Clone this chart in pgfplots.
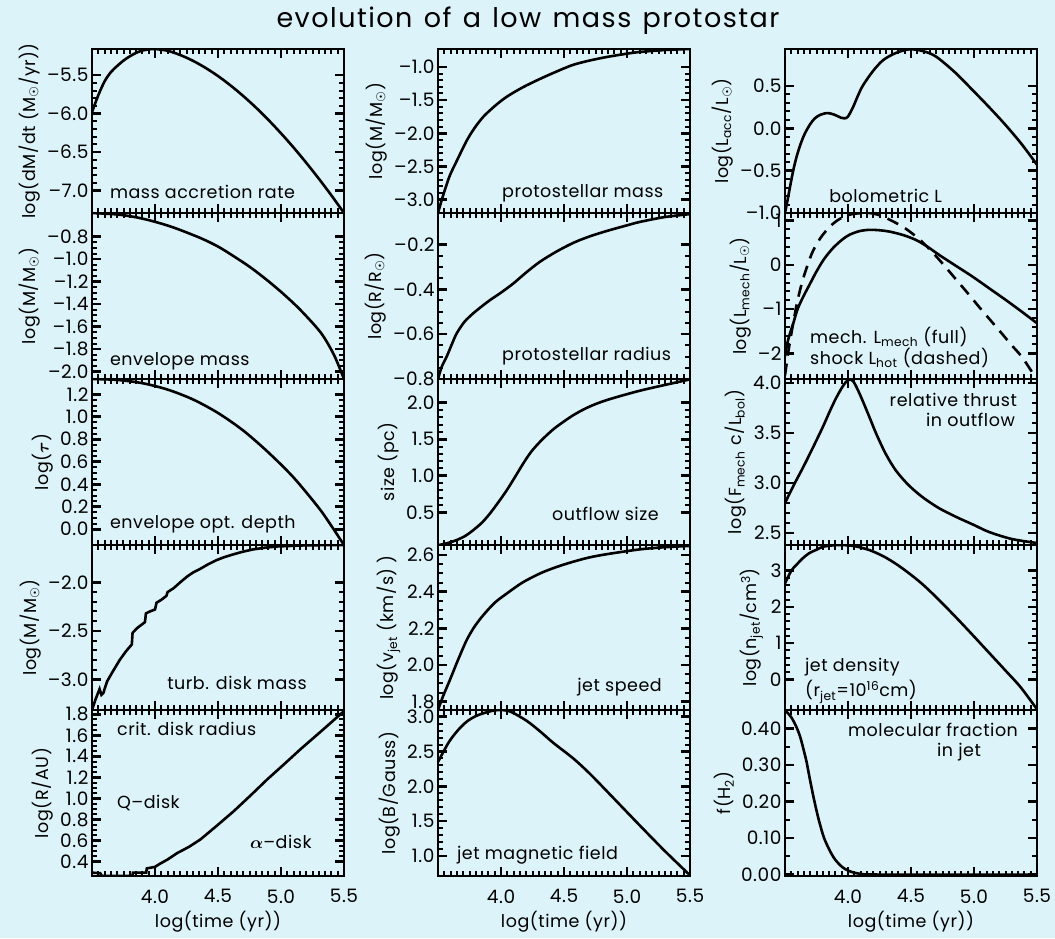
\documentclass[border=0pt]{standalone}
\usepackage{pgfplots}
\pgfplotsset{compat=1.18}
\usepackage{amsmath}
\usepackage{fontspec}
\setmainfont{Poppins}
\newfontfamily\symf{DejaVu Sans}
\newfontfamily\labf{Poppins}[LetterSpace=3, WordSpace=1.8]
\newfontfamily\tickf{Poppins}[LetterSpace=3]
\newfontfamily\titf{Poppins}[LetterSpace=5.5, WordSpace=1.3]
\definecolor{bgc}{RGB}{220,243,249}
\newcommand{\sun}{\text{\symf ☉}}
\newcommand{\fs}{\labf\fontsize{17.5}{19}\selectfont}
\newcommand{\ft}{\tickf\fontsize{18.5}{20}\selectfont}
\newcommand{\mn}{\textendash}

\pgfplotsset{
  tick align=inside, major tick length=9pt, minor tick length=5pt,
  every tick/.style={line width=2.6pt, black},
  every minor tick/.style={line width=2pt, black},
  pan/.style={scale only axis, width=252pt, xmin=3.5, xmax=5.5,
    xtick={3.5,4,4.5,5,5.5}, minor x tick num=9,
    minor y tick num=4,
    axis line style={line width=2.6pt},
    ticklabel style={font=\ft},
    ylabel style={font=\fs},
    xlabel style={font=\fs},
    anchor=north west},
  nox/.style={xticklabels={,,,,}},
  bot/.style={xticklabels={,4.0,4.5,5.0,5.5}, xlabel={log(time (yr))},
    xticklabel style={yshift=-10pt}, xlabel style={yshift=-1pt}},
  crv/.style={line width=2.6pt, black, no markers, smooth},
  stp/.style={line width=2.6pt, black, no markers},
}
\tikzset{lab/.style={font=\fs, anchor=west, inner sep=0pt}}

\begin{document}
\begin{tikzpicture}
\fill[bgc] (0pt,0pt) rectangle (1055pt,-938pt);
\node[font=\titf\fontsize{27}{30}\selectfont] at (528pt,-21pt) {evolution of a low mass protostar};

% ---------- row 1 ----------
\begin{axis}[pan, nox, at={(92pt,-49pt)}, height=164pt, ymin=-7.29, ymax=-5.16,
  ytick={-7,-6.5,-6,-5.5}, yticklabels={\mn7.0,\mn6.5,\mn6.0,\mn5.5},
  ylabel={log(dM/dt (M$_{\sun}$/yr))}]
\addplot[crv] coordinates {(3.5,-5.98) (3.55,-5.76) (3.6,-5.58) (3.65,-5.46) (3.7,-5.38) (3.75,-5.31) (3.8,-5.255) (3.85,-5.21) (3.9,-5.18) (3.95,-5.165) (4.0,-5.16) (4.1,-5.183) (4.2,-5.238) (4.3,-5.312) (4.4,-5.404) (4.5,-5.511) (4.6,-5.634) (4.7,-5.77) (4.8,-5.919) (4.9,-6.081) (5.0,-6.255) (5.1,-6.44) (5.2,-6.637) (5.3,-6.844) (5.4,-7.061) (5.5,-7.29)};
\node[lab] at (rel axis cs:0.071,0.128) {mass accretion rate};
\end{axis}

\begin{axis}[pan, nox, at={(438pt,-49pt)}, height=164pt, ymin=-3.2, ymax=-0.73,
  ytick={-3,-2.5,-2,-1.5,-1}, yticklabels={\mn3.0,\mn2.5,\mn2.0,\mn1.5,\mn1.0},
  ylabel={log(M/M$_{\sun}$)}]
\addplot[crv] coordinates {(3.5,-3.2) (3.53,-3.0) (3.56,-2.82) (3.595,-2.63) (3.65,-2.41) (3.728,-2.11) (3.79,-1.92) (3.86,-1.75) (3.95,-1.59) (4.045,-1.45) (4.17,-1.31) (4.31,-1.18) (4.44,-1.07) (4.57,-0.97) (4.7,-0.905) (4.84,-0.85) (5.0,-0.8) (5.1,-0.775) (5.3,-0.745) (5.5,-0.73)};
\node[lab] at (rel axis cs:0.254,0.122) {protostellar mass};
\end{axis}

\begin{axis}[pan, nox, at={(785pt,-49pt)}, height=164pt, ymin=-1.0, ymax=0.937,
  ytick={-1,-0.5,0,0.5}, yticklabels={\mn1.0,\mn0.5,0.0,0.5},
  ylabel={log(L$_{\text{acc}}$/L$_{\sun}$)}]
\addplot[crv] coordinates {(3.5,-1.0) (3.52,-0.85) (3.54,-0.69) (3.565,-0.5) (3.592,-0.335) (3.625,-0.18) (3.658,-0.06) (3.7,0.05) (3.737,0.118) (3.78,0.16) (3.83,0.18) (3.87,0.172) (3.909,0.15) (3.945,0.125) (3.974,0.118) (4.0,0.14) (4.04,0.25) (4.08,0.39) (4.12,0.51) (4.2,0.68) (4.28,0.807) (4.38,0.89) (4.49,0.934) (4.6,0.91) (4.70,0.846) (4.85,0.66) (4.99,0.45) (5.12,0.25) (5.25,0.04) (5.38,-0.19) (5.5,-0.43)};
\node[lab] at (rel axis cs:0.175,0.104) {bolometric L};
\end{axis}

% ---------- row 2 ----------
\begin{axis}[pan, nox, at={(92pt,-213pt)}, height=166pt, ymin=-2.065, ymax=-0.59,
  minor y tick num=3,
  ytick={-2,-1.8,-1.6,-1.4,-1.2,-1,-0.8}, yticklabels={\mn2.0,\mn1.8,\mn1.6,\mn1.4,\mn1.2,\mn1.0,\mn0.8},
  ylabel={log(M/M$_{\sun}$)}]
\addplot[crv] coordinates {(3.5,-0.59) (3.7,-0.603) (3.85,-0.628) (3.99,-0.665) (4.15,-0.72) (4.36,-0.812) (4.5,-0.888) (4.626,-0.975) (4.76,-1.075) (4.89,-1.187) (5.02,-1.31) (5.157,-1.455) (5.317,-1.655) (5.42,-1.85) (5.5,-2.065)};
\node[lab] at (rel axis cs:0.071,0.108) {envelope mass};
\end{axis}

\begin{axis}[pan, nox, at={(438pt,-213pt)}, height=166pt, ymin=-0.8, ymax=-0.06,
  minor y tick num=3,
  ytick={-0.8,-0.6,-0.4,-0.2}, yticklabels={\mn0.8,\mn0.6,\mn0.4,\mn0.2},
  ylabel={log(R/R$_{\sun}$)}]
\addplot[crv] coordinates {(3.5,-0.8) (3.53,-0.745) (3.569,-0.70) (3.61,-0.645) (3.648,-0.597) (3.71,-0.545) (3.78,-0.507) (3.85,-0.475) (3.913,-0.448) (4.0,-0.415) (4.098,-0.374) (4.2,-0.325) (4.31,-0.277) (4.44,-0.232) (4.574,-0.193) (4.7,-0.165) (4.84,-0.14) (5.0,-0.115) (5.1,-0.10) (5.3,-0.078) (5.5,-0.065)};
\node[lab] at (rel axis cs:0.254,0.139) {protostellar radius};
\end{axis}

\begin{axis}[pan, nox, at={(785pt,-213pt)}, height=166pt, ymin=-2.58, ymax=1.17,
  ytick={-2,-1,0,1}, yticklabels={\mn2,\mn1,0,1},
  ylabel={log(L$_{\text{mech}}$/L$_{\sun}$)}]
\addplot[crv] coordinates {(3.5,-2.07) (3.52,-1.75) (3.545,-1.5) (3.566,-1.32) (3.6,-1.0) (3.645,-0.72) (3.7,-0.42) (3.75,-0.15) (3.81,0.13) (3.88,0.375) (3.95,0.56) (4.01,0.676) (4.09,0.76) (4.17,0.79) (4.25,0.78) (4.33,0.75) (4.44,0.67) (4.54,0.56) (4.63,0.41) (4.725,0.22) (4.86,-0.03) (4.99,-0.27) (5.12,-0.53) (5.25,-0.79) (5.37,-1.04) (5.5,-1.32)};
\addplot[crv, dash pattern=on 12pt off 8pt] coordinates {(3.5,-2.5) (3.53,-1.9) (3.566,-1.3) (3.6,-0.8) (3.64,-0.35) (3.68,0.0) (3.72,0.30) (3.78,0.6) (3.855,0.86) (3.93,1.03) (4.01,1.13) (4.09,1.165) (4.17,1.17) (4.25,1.12) (4.33,1.02) (4.44,0.85) (4.54,0.64) (4.62,0.43) (4.70,0.19) (4.78,-0.07) (4.86,-0.34) (4.95,-0.64) (5.04,-0.95) (5.13,-1.25) (5.22,-1.55) (5.30,-1.82) (5.38,-2.08) (5.46,-2.42) (5.5,-2.58)};
\node[lab] at (rel axis cs:0.099,0.253) {mech. L$_{\text{mech}}$ (full)};
\node[lab] at (rel axis cs:0.099,0.127) {shock L$_{\text{hot}}$ (dashed)};
\end{axis}

% ---------- row 3 ----------
\begin{axis}[pan, nox, at={(92pt,-379pt)}, height=166pt, ymin=-0.14, ymax=1.336,
  minor y tick num=3,
  ytick={0,0.2,0.4,0.6,0.8,1,1.2}, yticklabels={0.0,0.2,0.4,0.6,0.8,1.0,1.2},
  ylabel={log($\boldsymbol{\tau}$)}]
\addplot[crv] coordinates {(3.5,1.336) (3.7,1.328) (3.9,1.299) (4.1,1.242) (4.3,1.155) (4.5,1.034) (4.7,0.878) (4.9,0.683) (5.1,0.46) (5.3,0.19) (5.4,0.03) (5.5,-0.14)};
\node[lab] at (rel axis cs:0.071,0.127) {envelope opt. depth};
\end{axis}

\begin{axis}[pan, nox, at={(438pt,-379pt)}, height=166pt, ymin=0.052, ymax=2.325,
  ytick={0.5,1,1.5,2}, yticklabels={0.5,1.0,1.5,2.0},
  ylabel={size (pc)}]
\addplot[crv] coordinates {(3.5,0.05) (3.58,0.08) (3.648,0.12) (3.72,0.18) (3.78,0.256) (3.85,0.36) (3.913,0.485) (3.98,0.64) (4.045,0.80) (4.11,0.98) (4.177,1.17) (4.24,1.33) (4.31,1.466) (4.375,1.575) (4.44,1.67) (4.574,1.83) (4.7,1.945) (4.84,2.037) (5.1,2.164) (5.37,2.27) (5.5,2.32)};
\node[lab] at (rel axis cs:0.452,0.187) {outflow size};
\end{axis}

\begin{axis}[pan, nox, at={(785pt,-379pt)}, height=166pt, ymin=2.38, ymax=4.04,
  ytick={2.5,3,3.5,4}, yticklabels={2.5,3.0,3.5,4.0},
  ylabel={log(F$_{\text{mech}}$ c/L$_{\text{bol}}$)}]
\addplot[crv] coordinates {(3.5,2.80) (3.57,2.98) (3.645,3.16) (3.72,3.35) (3.80,3.56) (3.86,3.73) (3.91,3.86) (3.96,3.97) (4.0,4.03) (4.04,4.02) (4.093,3.89) (4.16,3.69) (4.225,3.49) (4.3,3.29) (4.38,3.125) (4.48,2.98) (4.59,2.86) (4.72,2.75) (4.86,2.66) (5.0,2.58) (5.12,2.51) (5.3,2.44) (5.5,2.40)};
\node[lab, anchor=east] at (rel axis cs:0.921,0.873) {relative thrust};
\node[lab, anchor=east] at (rel axis cs:0.913,0.753) {in outflow};
\end{axis}

% ---------- row 4 ----------
\begin{axis}[pan, nox, at={(92pt,-545pt)}, height=165pt, ymin=-3.316, ymax=-1.615,
  ytick={-3,-2.5,-2}, yticklabels={\mn3.0,\mn2.5,\mn2.0},
  ylabel={log(M/M$_{\sun}$)}]
\addplot[stp] coordinates {(3.5,-3.316) (3.53,-3.2) (3.56,-3.1) (3.575,-3.16) (3.59,-3.14) (3.62,-3.02) (3.66,-2.93) (3.72,-2.80) (3.77,-2.71) (3.816,-2.64) (3.822,-2.52) (3.86,-2.47) (3.9,-2.43) (3.92,-2.41) (3.928,-2.32) (3.96,-2.30) (4.0,-2.28) (4.012,-2.21) (4.05,-2.18) (4.09,-2.14) (4.10,-2.10) (4.148,-2.06) (4.2,-2.0) (4.255,-1.94) (4.3,-1.9) (4.36,-1.86) (4.42,-1.815) (4.49,-1.77) (4.55,-1.74) (4.625,-1.71) (4.7,-1.683) (4.78,-1.66) (4.87,-1.643) (4.97,-1.63) (5.2,-1.618) (5.5,-1.615)};
\node[lab] at (rel axis cs:0.298,0.164) {turb. disk mass};
\end{axis}

\begin{axis}[pan, nox, at={(438pt,-545pt)}, height=165pt, ymin=1.755, ymax=2.655,
  minor y tick num=3,
  ytick={1.8,2,2.2,2.4,2.6}, yticklabels={1.8,2.0,2.2,2.4,2.6},
  ylabel={log(v$_{\text{jet}}$ (km/s) )}]
\addplot[crv] coordinates {(3.5,1.755) (3.54,1.83) (3.595,1.92) (3.66,2.03) (3.728,2.137) (3.79,2.21) (3.86,2.273) (3.95,2.34) (4.045,2.39) (4.17,2.45) (4.31,2.50) (4.44,2.535) (4.574,2.564) (4.7,2.587) (4.84,2.605) (5.1,2.631) (5.3,2.643) (5.5,2.65)};
\node[lab] at (rel axis cs:0.552,0.139) {jet speed};
\end{axis}

\begin{axis}[pan, nox, at={(785pt,-545pt)}, height=165pt, ymin=-0.85, ymax=3.71,
  ytick={0,1,2,3}, yticklabels={0,1,2,3},
  ylabel={log(n$_{\text{jet}}$/cm$^{\text{3}}$)}]
\addplot[crv] coordinates {(3.5,2.65) (3.55,3.0) (3.59,3.16) (3.64,3.34) (3.69,3.48) (3.75,3.58) (3.80,3.66) (3.88,3.70) (3.95,3.71) (4.05,3.68) (4.17,3.57) (4.28,3.40) (4.38,3.19) (4.48,2.94) (4.59,2.63) (4.72,2.20) (4.86,1.70) (4.99,1.22) (5.12,0.73) (5.25,0.24) (5.37,-0.22) (5.5,-0.83)};
\node[lab] at (rel axis cs:0.079,0.26) {jet density};
\node[lab] at (rel axis cs:0.079,0.109) {(r$_{\text{jet}}$=10$^{\text{16}}$cm)};
\end{axis}

% ---------- row 5 ----------
\begin{axis}[pan, bot, at={(92pt,-710pt)}, height=166pt, ymin=0.263, ymax=1.84,
  minor y tick num=3,
  ytick={0.4,0.6,0.8,1,1.2,1.4,1.6,1.8}, yticklabels={0.4,0.6,0.8,1.0,1.2,1.4,1.6,1.8},
  ylabel={log(R/AU)}]
\addplot[stp] coordinates {(3.5,0.295) (3.565,0.29) (3.58,0.263) (3.82,0.263) (3.825,0.295) (3.93,0.295) (3.935,0.335) (4.0,0.35) (4.04,0.38) (4.1,0.42) (4.175,0.48) (4.27,0.54) (4.36,0.61) (4.49,0.74) (4.626,0.88) (4.76,1.03) (4.89,1.18) (5.02,1.32) (5.157,1.47) (5.33,1.65) (5.5,1.83)};
\node[lab] at (rel axis cs:0.099,0.886) {crit. disk radius};
\node[lab] at (rel axis cs:0.099,0.44) {Q\mn disk};
\node[lab] at (rel axis cs:0.627,0.205) {$\boldsymbol{\alpha}$\mn disk};
\end{axis}

\begin{axis}[pan, bot, at={(438pt,-710pt)}, height=166pt, ymin=0.71, ymax=3.097,
  ytick={1,1.5,2,2.5,3}, yticklabels={1.0,1.5,2.0,2.5,3.0},
  ylabel={log(B/Gauss)}]
\addplot[crv] coordinates {(3.5,2.35) (3.55,2.52) (3.595,2.66) (3.66,2.81) (3.728,2.93) (3.8,3.01) (3.86,3.05) (3.93,3.085) (4.0,3.097) (4.08,3.07) (4.205,2.94) (4.31,2.79) (4.415,2.625) (4.574,2.40) (4.7,2.19) (4.84,1.93) (5.1,1.44) (5.3,1.07) (5.5,0.72)};
\node[lab] at (rel axis cs:0.075,0.127) {jet magnetic field};
\end{axis}

\begin{axis}[pan, bot, at={(785pt,-710pt)}, height=166pt, ymin=-0.004, ymax=0.45,
  minor y tick num=1,
  ytick={0,0.1,0.2,0.3,0.4}, yticklabels={0.00,0.10,0.20,0.30,0.40},
  ylabel={f(H$_{\text{2}}$)}]
\addplot[crv] coordinates {(3.5,0.45) (3.55,0.43) (3.59,0.404) (3.62,0.377) (3.645,0.345) (3.67,0.31) (3.695,0.265) (3.72,0.222) (3.75,0.175) (3.777,0.138) (3.81,0.10) (3.856,0.065) (3.9,0.04) (3.96,0.019) (4.03,0.007) (4.12,0.001) (4.25,0.0) (5.5,0.0)};
\node[lab] at (rel axis cs:0.25,0.88) {molecular fraction};
\node[lab] at (rel axis cs:0.603,0.747) {in jet};
\end{axis}

\pgfresetboundingbox
\path (0pt,0pt) rectangle (1055pt,-938pt);
\end{tikzpicture}
\end{document}
